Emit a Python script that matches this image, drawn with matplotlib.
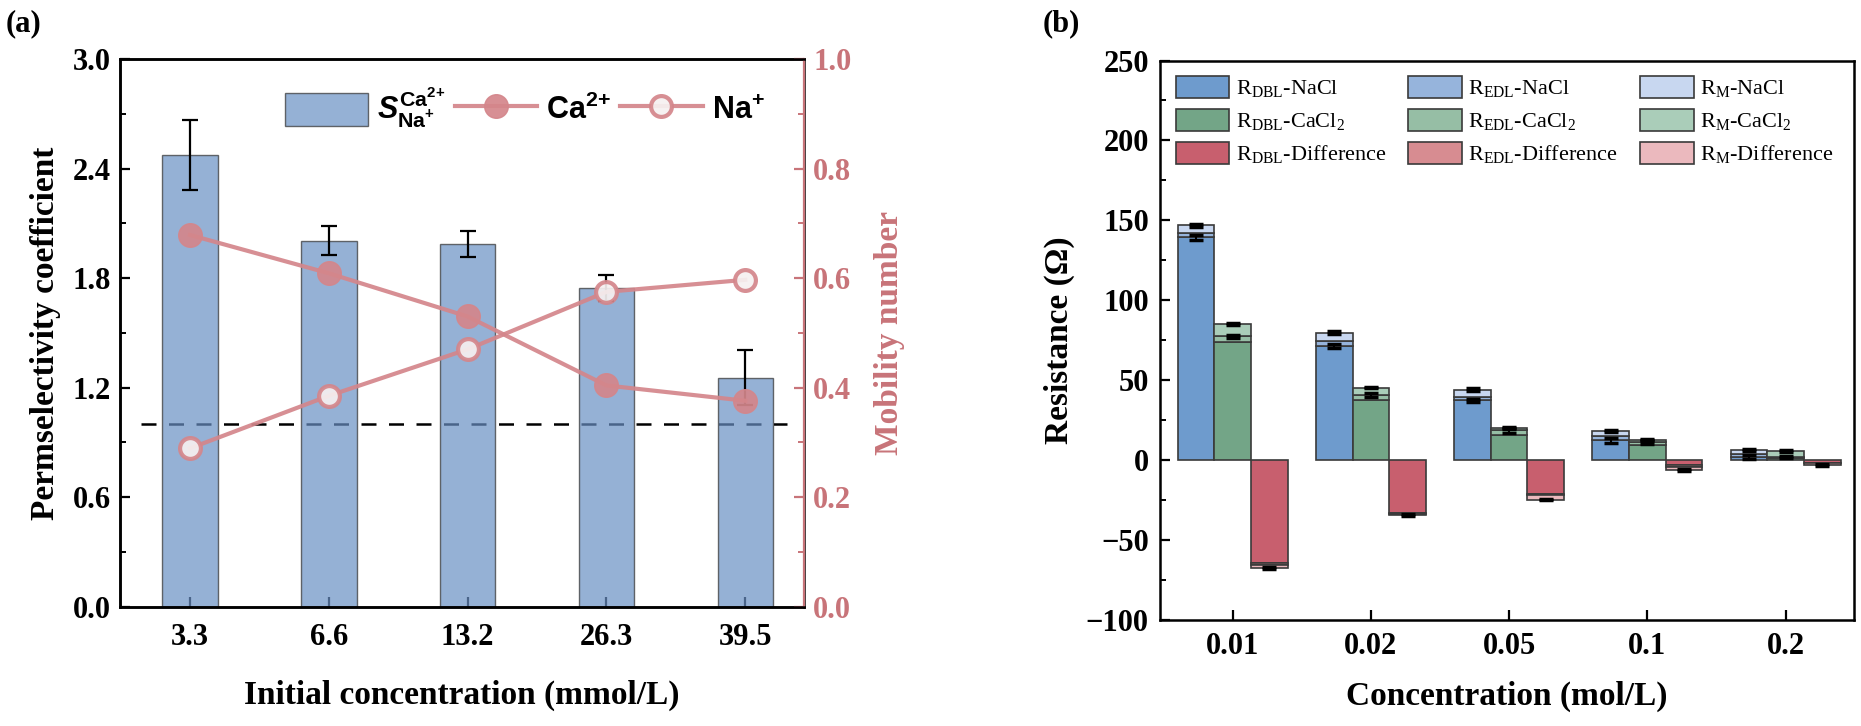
import numpy as np
import matplotlib
matplotlib.use("Agg")
import matplotlib.pyplot as plt
from matplotlib.patches import Patch

plt.rcParams['font.family'] = ['Liberation Serif', 'DejaVu Serif']
plt.rcParams['mathtext.fontset'] = 'custom'
plt.rcParams['mathtext.rm'] = 'Liberation Serif'
plt.rcParams['mathtext.sf'] = 'Liberation Sans:bold'
plt.rcParams['mathtext.it'] = 'Liberation Sans:italic:bold'
plt.rcParams['legend.numpoints'] = 1

# ---------------- panel (a) data ----------------
conc_a = ['3.3', '6.6', '13.2', '26.3', '39.5']
perm = [2.475, 2.005, 1.987, 1.745, 1.254]
perm_err = [0.19, 0.08, 0.07, 0.07, 0.15]
mob_ca = [0.679, 0.609, 0.530, 0.404, 0.376]
mob_na = [0.289, 0.385, 0.470, 0.575, 0.597]

# ---------------- panel (b) data ----------------
conc_b = ['0.01', '0.02', '0.05', '0.1', '0.2']
dbl_nacl = [139.5, 71.3, 37.4, 12.4, 2.0]
edl_nacl = [2.5, 3.3, 2.1, 2.5, 1.8]
m_nacl = [4.8, 5.2, 4.6, 3.3, 2.8]
dbl_cacl = [73.8, 37.9, 16.0, 9.5, 1.2]
edl_cacl = [3.7, 2.7, 2.7, 1.6, 0.8]
m_cacl = [7.5, 4.8, 1.4, 1.7, 3.7]
dbl_diff = [-64.5, -33.2, -21.4, -3.0, -1.6]
edl_diff = [-0.8, -0.4, -0.6, -1.0, -0.5]
m_diff = [-1.9, -0.6, -2.7, -2.3, -1.0]
err_dbl_nacl = [1.5, 1.2, 1.0, 1.5, 1.0]
err_top_nacl = [0.8, 1.0, 0.8, 0.8, 0.6]
err_dbl_cacl = [1.0, 1.2, 1.5, 1.0, 0.8]
err_top_cacl = [0.6, 0.5, 0.6, 0.5, 0.5]
err_bot_diff = [0.6, 0.5, 0.5, 0.5, 0.4]

W, H = 1861, 726
fig = plt.figure(figsize=(W / 100, H / 100), dpi=100)

pink = '#d4868b'
pink_axis = '#c87479'
tick_fs = 22
label_fs = 24

def style_ticks(ax):
    ax.tick_params(axis='both', which='major', direction='in', length=7, width=1.6,
                   labelsize=tick_fs)
    ax.tick_params(axis='both', which='minor', direction='in', length=4, width=1.4)
    for lab in ax.get_xticklabels() + ax.get_yticklabels():
        lab.set_fontweight('bold')
    for sp in ax.spines.values():
        sp.set_linewidth(1.8)

# ================= panel (a) =================
ax1 = fig.add_axes([120.5 / W, 1 - 606.5 / H, (803.6 - 120.5) / W, (606.5 - 59.3) / H])
x = np.arange(len(conc_a))
ax1.axhline(1.0, xmin=0.03, xmax=0.975, color='black', lw=1.8, ls=(0, (6, 5)), zorder=1)
bars = ax1.bar(x, perm, width=0.4, color='#6990c4', alpha=0.7, edgecolor='#303030',
               linewidth=1.0, zorder=2, label='S')
ax1.errorbar(x, perm, yerr=perm_err, fmt='none', ecolor='black', elinewidth=1.6,
             capsize=6, capthick=1.6, zorder=3)
ax1.set_xlim(-0.5, 4.42)
ax1.set_ylim(0, 3.0)
ax1.set_yticks(np.arange(0, 3.01, 0.6))
ax1.set_yticks(np.arange(0.3, 3.0, 0.6), minor=True)
ax1.set_xticks(x)
ax1.set_xticklabels(conc_a)
ax1.yaxis.set_major_formatter(matplotlib.ticker.FormatStrFormatter('%.1f'))
ax1.set_ylabel('Permselectivity coefficient', fontsize=label_fs, fontweight='bold', labelpad=8)
ax1.set_xlabel('Initial concentration (mmol/L)', fontsize=label_fs, fontweight='bold', labelpad=20)
ax1.tick_params(axis='x', pad=12)
ax1.tick_params(axis='y', pad=7)

ax2 = ax1.twinx()
ln_ca, = ax2.plot(x, mob_ca, color=pink, lw=3, marker='o', ms=17, mfc=pink, mec=pink,
                  alpha=0.92, zorder=4)
ln_na, = ax2.plot(x, mob_na, color=pink, lw=3, marker='o', ms=15, mfc='#f6f0f0', mec=pink,
                  mew=3, alpha=0.92, zorder=4)
ax2.set_ylim(0, 1.0)
ax2.set_yticks(np.arange(0, 1.01, 0.2))
ax2.set_yticks(np.arange(0.1, 1.0, 0.2), minor=True)
ax2.yaxis.set_major_formatter(matplotlib.ticker.FormatStrFormatter('%.1f'))
style_ticks(ax1)
style_ticks(ax2)
ax1.tick_params(axis='y', which='both', right=False)
ax2.tick_params(axis='y', which='both', colors=pink_axis, pad=7)
ax2.spines['right'].set_color(pink_axis)
ax2.spines['right'].set_linewidth(1.6)
for lab in ax2.get_yticklabels():
    lab.set_fontweight('bold')
ax2.set_ylabel('Mobility number', fontsize=label_fs, fontweight='bold', color=pink_axis,
               labelpad=16)

leg_a = ax2.legend([bars, ln_ca, ln_na],
                   [r'$\mathit{S}_{\mathsf{Na}^{\mathsf{{+}}}}^{\mathsf{Ca}^{\mathsf{2{+}}}}$',
                    r'Ca$^{\mathsf{2{+}}}$', r'Na$^{\mathsf{{+}}}$'],
                   ncol=3, frameon=False, loc='upper right', bbox_to_anchor=(0.97, 0.985),
                   prop={'family': 'Liberation Sans', 'weight': 'bold', 'size': 22},
                   handlelength=2.7, handleheight=1.3, handletextpad=0.3,
                   columnspacing=0.3, borderaxespad=0.2)

fig.text(6 / W, 1 - 9 / H, '(a)', fontsize=22, fontweight='bold', va='top', ha='left')

# ================= panel (b) =================
axb = fig.add_axes([1160 / W, 1 - 620 / H, (1853.5 - 1160) / W, (620 - 60.5) / H])
xb = np.arange(len(conc_b))
bw = 0.265
edge = '#3a3a3a'

c_nacl = ['#6e9bcd', '#96b4dc', '#c8d7f0']
c_cacl = ['#73a587', '#96bea5', '#aacdb9']
c_diff = ['#c85f6e', '#d78c91', '#ebb9be']

def stack(ax, xpos, parts, colors):
    base = np.zeros(len(xpos))
    tops = []
    for vals, col in zip(parts, colors):
        vals = np.array(vals)
        ax.bar(xpos, vals, width=bw, bottom=base, color=col, edgecolor=edge,
               linewidth=1.2, zorder=2)
        base = base + vals
        tops.append(base.copy())
    return tops

t_n = stack(axb, xb - bw, [dbl_nacl, edl_nacl, m_nacl], c_nacl)
t_c = stack(axb, xb, [dbl_cacl, edl_cacl, m_cacl], c_cacl)
t_d = stack(axb, xb + bw, [dbl_diff, edl_diff, m_diff], c_diff)

ekw = dict(fmt='none', ecolor='black', elinewidth=1.5, capsize=5, capthick=2.5, zorder=3)
axb.errorbar(xb - bw, t_n[0], yerr=err_dbl_nacl, **ekw)
axb.errorbar(xb - bw, t_n[2], yerr=err_top_nacl, **ekw)
axb.errorbar(xb, t_c[1], yerr=err_dbl_cacl, **ekw)
axb.errorbar(xb, t_c[2], yerr=err_top_cacl, **ekw)
axb.errorbar(xb + bw, t_d[2], yerr=err_bot_diff, **ekw)

axb.set_xlim(-0.525, 4.49)
axb.set_ylim(-100, 250)
axb.set_yticks(np.arange(-100, 251, 50))
axb.set_yticks(np.arange(-75, 250, 50), minor=True)
axb.set_xticks(xb)
axb.set_xticklabels(conc_b)
style_ticks(axb)
axb.tick_params(axis='x', pad=9)
axb.tick_params(axis='y', pad=8)
axb.set_ylabel('Resistance (\u03a9)', fontsize=label_fs, fontweight='bold', labelpad=8)
axb.set_xlabel('Concentration (mol/L)', fontsize=label_fs, fontweight='bold', labelpad=14)

handles = []
labels = []
for tag in ['DBL', 'EDL', 'M']:
    i = ['DBL', 'EDL', 'M'].index(tag)
    for cols, name in [(c_nacl, 'NaCl'), (c_cacl, r'CaCl$_{\rm 2}$'), (c_diff, 'Difference')]:
        handles.append(Patch(facecolor=cols[i], edgecolor=edge, linewidth=1.2))
        labels.append(r'R$_{\rm %s}$-%s' % (tag, name))
axb.legend(handles, labels, ncol=3, frameon=False, loc='upper left',
           bbox_to_anchor=(0.0, 1.0), fontsize=16, handlelength=2.4, handleheight=1.15,
           handletextpad=0.3, labelspacing=0.4, columnspacing=1.0, borderaxespad=0.3)

fig.text(1043 / W, 1 - 9 / H, '(b)', fontsize=22, fontweight='bold', va='top', ha='left')

fig.savefig('out.png', dpi=100)
